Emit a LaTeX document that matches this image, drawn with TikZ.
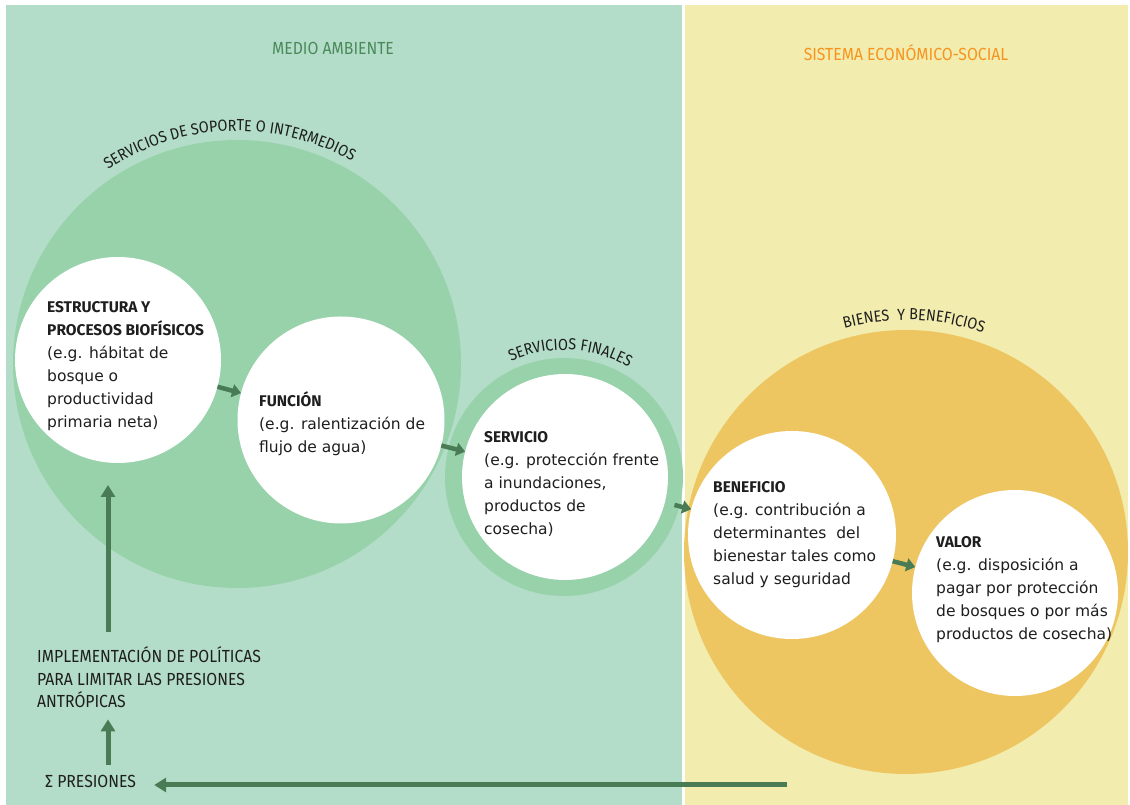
\documentclass[tikz,border=0pt]{standalone}
\usepackage{fontspec}
\setmainfont{DejaVu Sans}
\newfontfamily\fira{Fira Sans}
\newfontfamily\firacond[FakeStretch=0.9]{Fira Sans}
\usetikzlibrary{arrows.meta,decorations.text,calc}
\definecolor{pgreen}{HTML}{B3DDC8}
\definecolor{cgreen}{HTML}{97D2AB}
\definecolor{pyellow}{HTML}{F2ECAE}
\definecolor{corange}{HTML}{EEC661}
\definecolor{agreen}{HTML}{497B54}
\definecolor{tgreen}{HTML}{4A8A5A}
\definecolor{torange}{HTML}{F7941E}
\definecolor{txt}{HTML}{1E1E1E}
\newcommand\bodyfont{\fontsize{15.5}{23}\selectfont}
\newcommand\headfont{\fira\bfseries\fontsize{15.5}{23}\selectfont}
\newcommand\hd[1]{{\headfont #1}}
\newcommand\labfont{\firacond\fontsize{16}{18}\selectfont}
\tikzset{
  disc/.style={circle, inner sep=0pt, outer sep=0pt, minimum size=#1},
  bodytxt/.style={anchor=base west, align=left, inner sep=0pt, text=txt, font=\bodyfont},
  captxt/.style={inner sep=0pt, text=txt, font=\firacond\fontsize{17.5}{22.5}\selectfont},
  titletxt/.style={inner sep=0pt, font=\firacond\fontsize{17.5}{19}\selectfont},
  sarr/.style={draw=agreen, line width=4.5pt, -{Triangle[length=9pt,width=13pt]}},
  barr/.style={draw=agreen, line width=5pt, -{Triangle[length=12pt,width=14pt]}},
  arclab/.style={decorate, decoration={text along path, text align=center, text={|\labfont\color{txt}|#1}}}
}
\begin{document}
\begin{tikzpicture}[x=1pt,y=1pt]
\useasboundingbox (0,0) rectangle (1130,805);
\fill[white] (0,0) rectangle (1130,805);
% panels
\fill[pgreen] (6,0) rectangle (682,800);
\fill[pyellow] (685,0) rectangle (1128,800);
% titles
\node[titletxt, text=tgreen] (tenv) at (333,757) {MEDIO AMBIENTE};
\node[titletxt, text=torange] (teco) at (906,752) {SISTEMA ECONÓMICO-SOCIAL};
% big circles
\node[disc=448pt, fill=cgreen] (gbig) at (237,441) {};
\node[disc=238pt, fill=cgreen] (ring) at (564,328) {};
\node[disc=444pt, fill=corange] (obig) at (906,253) {};
% white circles
\node[disc=206pt, fill=white] (estr) at (118,445) {};
\node[disc=207pt, fill=white] (func) at (341,385) {};
\node[disc=206pt, fill=white] (serv) at (565,328) {};
\node[disc=208pt, fill=white] (ben) at (792,270) {};
\node[disc=206pt, fill=white] (val) at (1015,212) {};
% curved labels
\path[arclab={SERVICIOS DE SOPORTE O INTERMEDIOS}] ($(gbig)+(142:233pt)$) arc[start angle=142, end angle=42, radius=233pt];
\path[arclab={SERVICIOS FINALES}] ($(ring)+(137:127pt)$) arc[start angle=137, end angle=37, radius=127pt];
\path[arclab={BIENES {\ }Y BENEFICIOS}] ($(obig)+(128:232pt)$) arc[start angle=128, end angle=48, radius=232pt];
% texts in circles (anchored at the baseline of their last line)
\node[bodytxt] (estrT) at (47,377) {\hd{ESTRUCTURA Y}\\\hd{PROCESOS BIOFÍSICOS}\\(e.g. hábitat de\\bosque o\\productividad\\primaria neta)};
\node[bodytxt] (funcT) at (259,352) {\hd{FUNCIÓN}\\(e.g. ralentización de\\flujo de agua)};
\node[bodytxt] (servT) at (484,270) {\hd{SERVICIO}\\(e.g. protección frente\\a inundaciones,\\productos de\\cosecha)};
\node[bodytxt] (benT) at (713,220) {\hd{BENEFICIO}\\(e.g. contribución a\\determinantes~ del\\bienestar tales como\\salud y seguridad};
\node[bodytxt] (valT) at (936,165) {\hd{VALOR}\\(e.g. disposición a\\pagar por protección\\de bosques o por más\\productos de cosecha)};
% policy and pressures
\node[captxt, anchor=base west, align=left] (impl) at (37,97) {IMPLEMENTACIÓN DE POLÍTICAS\\PARA LIMITAR LAS PRESIONES\\ANTRÓPICAS};
\node[captxt, anchor=base west] (pres) at (45,17) {Σ PRESIONES};
\coordinate (axis) at (108,0);
\coordinate (hstart) at (787,20);
% arrows
\draw[sarr] (estr) -- (func);
\draw[sarr] (func) -- (serv);
\draw[sarr, shorten <=10pt] (serv) -- (ben);
\draw[sarr] (ben) -- (val);
\draw[barr, shorten <=15pt, shorten >=22pt] (impl.north -| axis) -- (estr.south -| axis);
\draw[barr, shorten <=11pt, shorten >=11pt] (pres.north -| axis) -- (impl.south -| axis);
\draw[barr, shorten >=18pt] (hstart) -- (pres.east |- hstart);
\end{tikzpicture}
\end{document}
